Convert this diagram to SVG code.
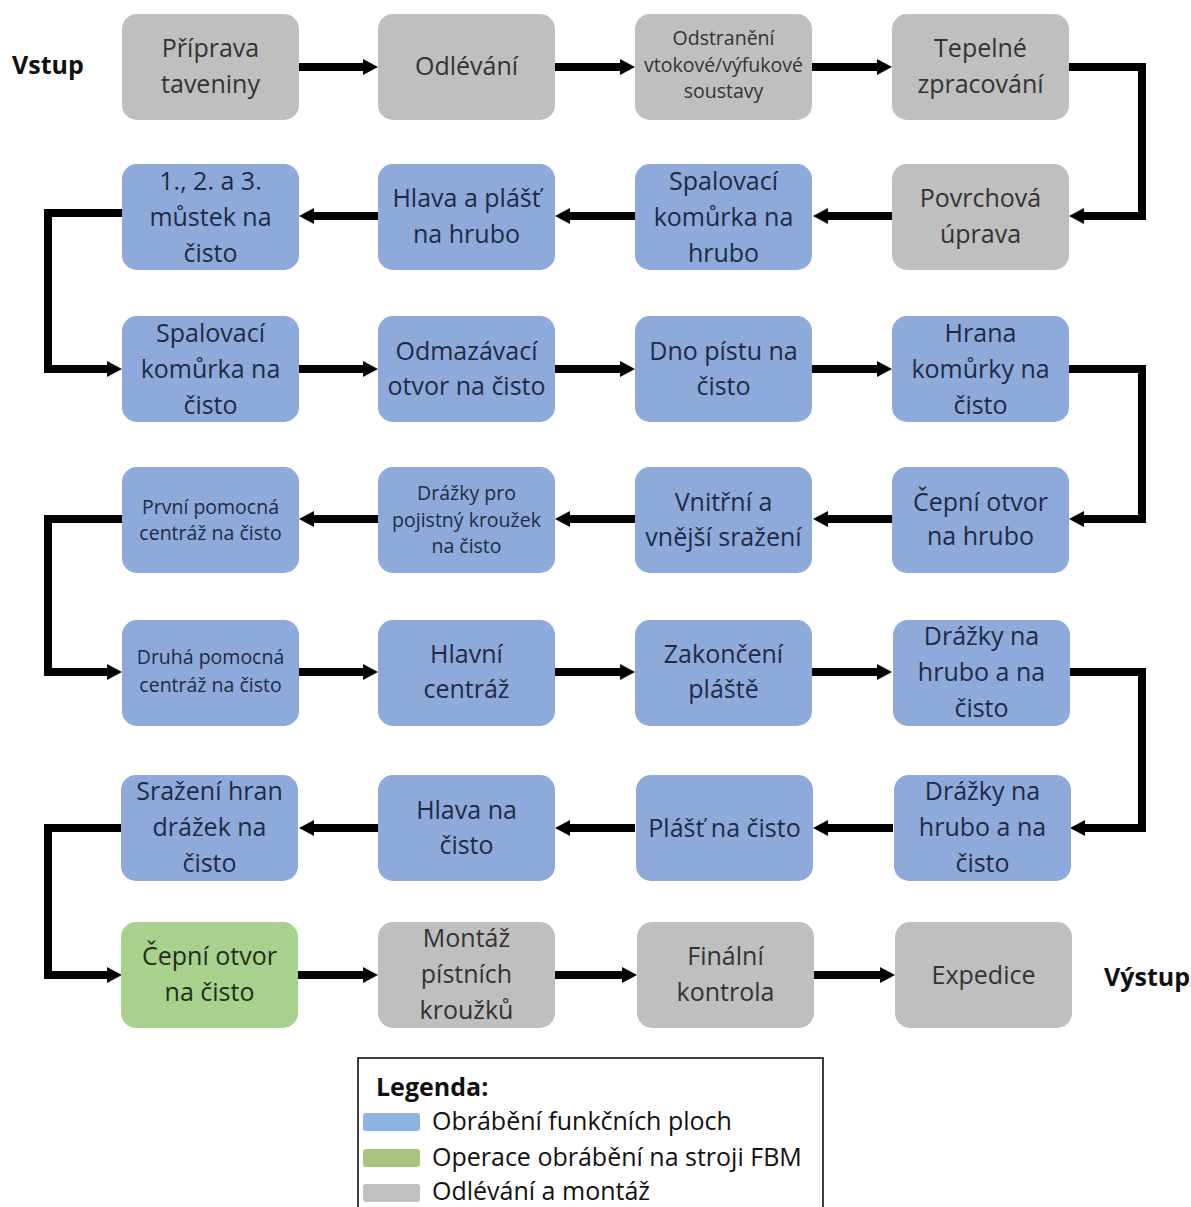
<svg xmlns="http://www.w3.org/2000/svg" width="1191" height="1207" viewBox="0 0 1191 1207">
  <style>
    .box rect { stroke: none; }
    .gray rect { fill: #bfbfbf; }
    .blue rect { fill: #8eaadb; }
    .green rect { fill: #a9d18e; }
    .box text { font-family: "Open Sans", "Noto Sans", "DejaVu Sans", sans-serif; text-anchor: middle; font-size: 25px; }
    .box text.sm { font-size: 19.5px; }
    .gray text { fill: #333333; }
    .blue text { fill: #1f2a44; }
    .green text { fill: #1f2e1c; }
    .conn path { fill: none; stroke: #000; stroke-width: 8; stroke-linejoin: miter; }
    .io { font-family: "Open Sans", "Noto Sans", sans-serif; font-weight: bold; font-size: 25px; fill: #111; }
    .leg { font-family: "Open Sans", "Noto Sans", sans-serif; font-size: 25px; fill: #111; }
  </style>
  <defs>
    <marker id="arrow" markerUnits="userSpaceOnUse" markerWidth="16" markerHeight="18" refX="3" refY="8" orient="auto" overflow="visible">
      <path d="M0,0 L15,8 L0,16 Z" fill="#000"/>
    </marker>
  </defs>

  <rect width="1191" height="1207" fill="#ffffff"/>

  <!-- input / output labels -->
  <text class="io" x="12" y="74">Vstup</text>
  <text class="io" x="1104" y="986">Výstup</text>

  <!-- connectors -->
  <g id="connectors" class="conn">
    <!-- row 1 -->
    <path d="M298,67 H366" marker-end="url(#arrow)"/>
    <path d="M555,67 H623" marker-end="url(#arrow)"/>
    <path d="M812,67 H880" marker-end="url(#arrow)"/>
    <path d="M1068,67 H1142 V216 H1081" marker-end="url(#arrow)"/>
    <!-- row 2 -->
    <path d="M892,216 H825" marker-end="url(#arrow)"/>
    <path d="M635,216 H567" marker-end="url(#arrow)"/>
    <path d="M378,216 H311" marker-end="url(#arrow)"/>
    <path d="M122,213 H48 V369 H110" marker-end="url(#arrow)"/>
    <!-- row 3 -->
    <path d="M299,369 H366" marker-end="url(#arrow)"/>
    <path d="M555,369 H623" marker-end="url(#arrow)"/>
    <path d="M812,369 H880" marker-end="url(#arrow)"/>
    <path d="M1068,369 H1142 V519 H1081" marker-end="url(#arrow)"/>
    <!-- row 4 -->
    <path d="M892,519 H825" marker-end="url(#arrow)"/>
    <path d="M635,519 H567" marker-end="url(#arrow)"/>
    <path d="M378,519 H311" marker-end="url(#arrow)"/>
    <path d="M122,519 H48 V672 H110" marker-end="url(#arrow)"/>
    <!-- row 5 -->
    <path d="M299,672 H366" marker-end="url(#arrow)"/>
    <path d="M555,672 H623" marker-end="url(#arrow)"/>
    <path d="M812,672 H880" marker-end="url(#arrow)"/>
    <path d="M1069,672 H1142 V828 H1082" marker-end="url(#arrow)"/>
    <!-- row 6 -->
    <path d="M893,828 H825" marker-end="url(#arrow)"/>
    <path d="M635,828 H567" marker-end="url(#arrow)"/>
    <path d="M378,828 H311" marker-end="url(#arrow)"/>
    <path d="M122,828 H48 V975 H110" marker-end="url(#arrow)"/>
    <!-- row 7 -->
    <path d="M298,975 H366" marker-end="url(#arrow)"/>
    <path d="M555,975 H625" marker-end="url(#arrow)"/>
    <path d="M813,975 H883" marker-end="url(#arrow)"/>
  </g>

  <!-- row 1 -->
  <g id="n-priprava" class="box gray">
    <rect x="122" y="14" width="177" height="106" rx="15"/>
    <text x="210.5" y="57">Příprava</text>
    <text x="210.5" y="93">taveniny</text>
  </g>
  <g id="n-odlevani" class="box gray">
    <rect x="378" y="14" width="177" height="106" rx="15"/>
    <text x="466.5" y="75">Odlévání</text>
  </g>
  <g id="n-odstraneni" class="box gray">
    <rect x="635" y="14" width="177" height="106" rx="15"/>
    <text class="sm" x="723.5" y="45">Odstranění</text>
    <text class="sm" x="723.5" y="72">vtokové/výfukové</text>
    <text class="sm" x="723.5" y="98">soustavy</text>
  </g>
  <g id="n-tepelne" class="box gray">
    <rect x="892" y="14" width="177" height="106" rx="15"/>
    <text x="980.5" y="57">Tepelné</text>
    <text x="980.5" y="93">zpracování</text>
  </g>

  <!-- row 2 -->
  <g id="n-povrchova" class="box gray">
    <rect x="892" y="164" width="177" height="106" rx="15"/>
    <text x="980.5" y="207">Povrchová</text>
    <text x="980.5" y="243">úprava</text>
  </g>
  <g id="n-spal-hrubo" class="box blue">
    <rect x="635" y="164" width="177" height="106" rx="15"/>
    <text x="723.5" y="190">Spalovací</text>
    <text x="723.5" y="226">komůrka na</text>
    <text x="723.5" y="262">hrubo</text>
  </g>
  <g id="n-hlava-plast" class="box blue">
    <rect x="378" y="164" width="177" height="106" rx="15"/>
    <text x="466.5" y="207">Hlava a plášť</text>
    <text x="466.5" y="243">na hrubo</text>
  </g>
  <g id="n-mustek" class="box blue">
    <rect x="122" y="164" width="177" height="106" rx="15"/>
    <text x="210.5" y="190">1., 2. a 3.</text>
    <text x="210.5" y="226">můstek na</text>
    <text x="210.5" y="262">čisto</text>
  </g>

  <!-- row 3 -->
  <g id="n-spal-cisto" class="box blue">
    <rect x="122" y="316" width="177" height="106" rx="15"/>
    <text x="210.5" y="342">Spalovací</text>
    <text x="210.5" y="378">komůrka na</text>
    <text x="210.5" y="414">čisto</text>
  </g>
  <g id="n-odmazavaci" class="box blue">
    <rect x="378" y="316" width="177" height="106" rx="15"/>
    <text x="466.5" y="360">Odmazávací</text>
    <text x="466.5" y="395">otvor na čisto</text>
  </g>
  <g id="n-dno" class="box blue">
    <rect x="635" y="316" width="177" height="106" rx="15"/>
    <text x="723.5" y="360">Dno pístu na</text>
    <text x="723.5" y="395">čisto</text>
  </g>
  <g id="n-hrana" class="box blue">
    <rect x="892" y="316" width="177" height="106" rx="15"/>
    <text x="980.5" y="342">Hrana</text>
    <text x="980.5" y="378">komůrky na</text>
    <text x="980.5" y="414">čisto</text>
  </g>

  <!-- row 4 -->
  <g id="n-cepni-hrubo" class="box blue">
    <rect x="892" y="467" width="177" height="106" rx="15"/>
    <text x="980.5" y="511">Čepní otvor</text>
    <text x="980.5" y="545">na hrubo</text>
  </g>
  <g id="n-srazeni" class="box blue">
    <rect x="635" y="467" width="177" height="106" rx="15"/>
    <text x="723.5" y="511">Vnitřní a</text>
    <text x="723.5" y="546">vnější sražení</text>
  </g>
  <g id="n-drazky-pojistny" class="box blue">
    <rect x="378" y="467" width="177" height="106" rx="15"/>
    <text class="sm" x="466.5" y="500">Drážky pro</text>
    <text class="sm" x="466.5" y="527">pojistný kroužek</text>
    <text class="sm" x="466.5" y="553">na čisto</text>
  </g>
  <g id="n-prvni-centraz" class="box blue">
    <rect x="122" y="467" width="177" height="106" rx="15"/>
    <text class="sm" x="210.5" y="514">První pomocná</text>
    <text class="sm" x="210.5" y="540">centráž na čisto</text>
  </g>

  <!-- row 5 -->
  <g id="n-druha-centraz" class="box blue">
    <rect x="122" y="620" width="177" height="106" rx="15"/>
    <text class="sm" x="210.5" y="664">Druhá pomocná</text>
    <text class="sm" x="210.5" y="692">centráž na čisto</text>
  </g>
  <g id="n-hlavni-centraz" class="box blue">
    <rect x="378" y="620" width="177" height="106" rx="15"/>
    <text x="466.5" y="663">Hlavní</text>
    <text x="466.5" y="698">centráž</text>
  </g>
  <g id="n-zakonceni" class="box blue">
    <rect x="635" y="620" width="177" height="106" rx="15"/>
    <text x="723.5" y="663">Zakončení</text>
    <text x="723.5" y="698">pláště</text>
  </g>
  <g id="n-drazky-1" class="box blue">
    <rect x="893" y="620" width="177" height="106" rx="15"/>
    <text x="981.5" y="645">Drážky na</text>
    <text x="981.5" y="681">hrubo a na</text>
    <text x="981.5" y="717">čisto</text>
  </g>

  <!-- row 6 -->
  <g id="n-drazky-2" class="box blue">
    <rect x="894" y="775" width="177" height="106" rx="15"/>
    <text x="982.5" y="800">Drážky na</text>
    <text x="982.5" y="836">hrubo a na</text>
    <text x="982.5" y="872">čisto</text>
  </g>
  <g id="n-plast" class="box blue">
    <rect x="636" y="775" width="177" height="106" rx="15"/>
    <text x="724.5" y="837">Plášť na čisto</text>
  </g>
  <g id="n-hlava" class="box blue">
    <rect x="378" y="775" width="177" height="106" rx="15"/>
    <text x="466.5" y="819">Hlava na</text>
    <text x="466.5" y="854">čisto</text>
  </g>
  <g id="n-srazeni-hran" class="box blue">
    <rect x="121" y="775" width="177" height="106" rx="15"/>
    <text x="209.5" y="800">Sražení hran</text>
    <text x="209.5" y="836">drážek na</text>
    <text x="209.5" y="872">čisto</text>
  </g>

  <!-- row 7 -->
  <g id="n-cepni-cisto" class="box green">
    <rect x="121" y="922" width="177" height="106" rx="15"/>
    <text x="209.5" y="965">Čepní otvor</text>
    <text x="209.5" y="1001">na čisto</text>
  </g>
  <g id="n-montaz" class="box gray">
    <rect x="378" y="922" width="177" height="106" rx="15"/>
    <text x="466.5" y="947">Montáž</text>
    <text x="466.5" y="983">pístních</text>
    <text x="466.5" y="1019">kroužků</text>
  </g>
  <g id="n-finalni" class="box gray">
    <rect x="637" y="922" width="177" height="106" rx="15"/>
    <text x="725.5" y="965">Finální</text>
    <text x="725.5" y="1001">kontrola</text>
  </g>
  <g id="n-expedice" class="box gray">
    <rect x="895" y="922" width="177" height="106" rx="15"/>
    <text x="983.5" y="984">Expedice</text>
  </g>

  <!-- legend -->
  <g id="legend">
    <rect x="358" y="1058" width="465" height="170" fill="#ffffff" stroke="#000" stroke-width="1.5"/>
    <text class="leg" x="376" y="1096" font-weight="bold">Legenda:</text>
    <rect x="363" y="1113" width="57" height="18" rx="3" fill="#8db3e2"/>
    <text class="leg" x="432" y="1130">Obrábění funkčních ploch</text>
    <rect x="363" y="1149" width="57" height="18" rx="3" fill="#a9c47f"/>
    <text class="leg" x="432" y="1166">Operace obrábění na stroji FBM</text>
    <rect x="363" y="1184" width="57" height="18" rx="3" fill="#c0c0c0"/>
    <text class="leg" x="432" y="1200">Odlévání a montáž</text>
  </g>
</svg>
